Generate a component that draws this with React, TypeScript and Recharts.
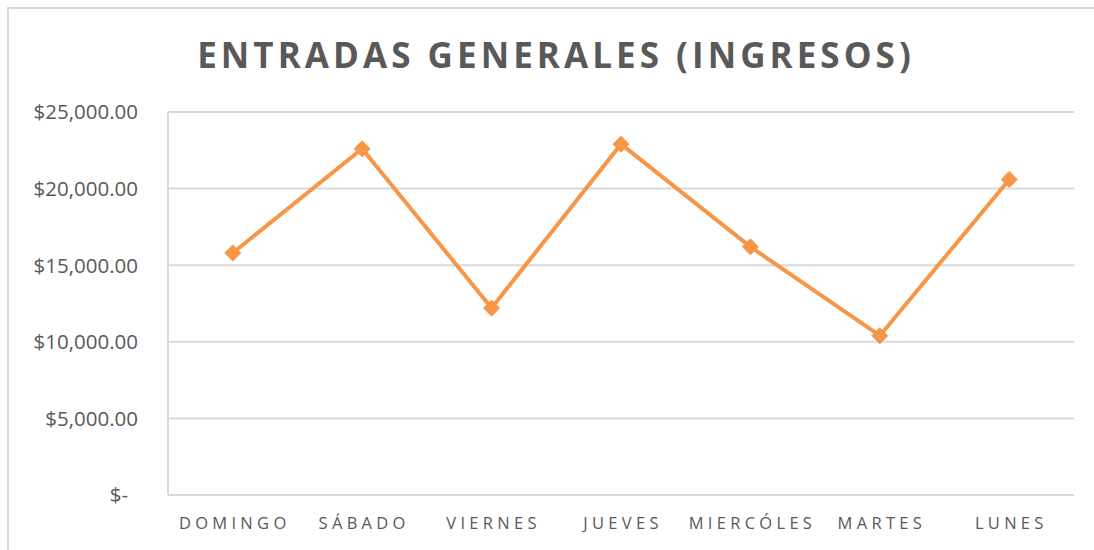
import React from "react";
import { LineChart, Line, XAxis, YAxis, CartesianGrid } from "recharts";

const categories = ["DOMINGO", "SÁBADO", "VIERNES", "JUEVES", "MIERCÓLES", "MARTES", "LUNES"];
const ingresos = [15800, 22600, 12200, 22900, 16200, 10400, 20600];
const yTicks = [0, 5000, 10000, 15000, 20000, 25000];
const title = "ENTRADAS GENERALES (INGRESOS)";

const data = categories.map((c, i) => ({ dia: c, ingresos: ingresos[i] }));

const LINE = "#F79646";
const TEXT = "#595959";
const GRID = "#D9D9D9";
const FONT = "'Open Sans', sans-serif";

const fmt = (v: number) =>
  v === 0 ? "$-" : "$" + v.toLocaleString("en-US", { minimumFractionDigits: 2, maximumFractionDigits: 2 });

const YTick = (props: any) => {
  const { x, y, payload } = props;
  const zero = payload.value === 0;
  return (
    <text
      x={x + (zero ? -10 : 0)}
      y={y}
      dy="0.36em"
      textAnchor="end"
      fill={TEXT}
      fontSize={20.5}
      fontFamily={FONT}
    >
      {fmt(payload.value)}
    </text>
  );
};

const XTick = (props: any) => {
  const { x, y, payload } = props;
  return (
    <text
      x={x + 2}
      y={y}
      dy="0.71em"
      textAnchor="middle"
      fill={TEXT}
      fontSize={16.5}
      fontFamily={FONT}
      style={{ letterSpacing: "4.3px" }}
    >
      {payload.value}
    </text>
  );
};

const Diamond = (props: any) => {
  const { cx, cy } = props;
  if (cx == null || cy == null) return null;
  const r = 8;
  return (
    <polygon
      points={`${cx},${cy - r} ${cx + r},${cy} ${cx},${cy + r} ${cx - r},${cy}`}
      fill={LINE}
      stroke={LINE}
      strokeWidth={1}
    />
  );
};

export default function App() {
  return (
    <div
      style={{
        position: "absolute",
        left: 0,
        top: 0,
        width: 1094,
        height: 550,
        overflow: "hidden",
        background: "#fff",
      }}
    >
      <div
        style={{
          position: "absolute",
          left: 7,
          top: 7,
          width: 1200,
          height: 700,
          border: "2px solid #D9D9D9",
          boxSizing: "border-box",
        }}
      />
      <div
        style={{
          position: "absolute",
          left: 0,
          top: 29,
          width: 1112,
          textAlign: "center",
          fontFamily: FONT,
          fontWeight: 700,
          fontSize: 35,
          letterSpacing: "4.05px",
          color: TEXT,
          lineHeight: "52px",
        }}
      >
        {title}
      </div>
      <div style={{ position: "absolute", left: 0, top: 0 }}>
        <LineChart
          width={1094}
          height={550}
          data={data}
          margin={{ top: 112, right: 20, bottom: 0, left: 0 }}
        >
          <CartesianGrid vertical={false} stroke={GRID} strokeWidth={2} />
          <XAxis
            dataKey="dia"
            scale="band"
            height={55}
            tickLine={false}
            tickSize={0}
            tickMargin={22}
            axisLine={{ stroke: GRID, strokeWidth: 2 }}
            tick={<XTick />}
            interval={0}
          />
          <YAxis
            width={168}
            domain={[0, 25000]}
            ticks={yTicks}
            tickLine={false}
            tickSize={0}
            tickMargin={30}
            axisLine={{ stroke: GRID, strokeWidth: 2 }}
            tick={<YTick />}
            interval={0}
          />
          <Line
            type="linear"
            dataKey="ingresos"
            stroke={LINE}
            strokeWidth={4}
            dot={<Diamond />}
            activeDot={false}
            isAnimationActive={false}
          />
        </LineChart>
      </div>
    </div>
  );
}
